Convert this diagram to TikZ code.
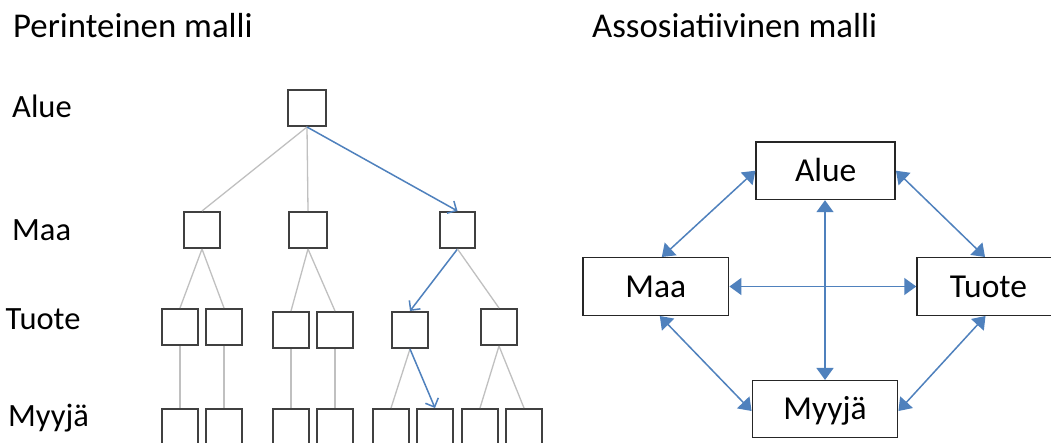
\documentclass[tikz,border=0pt]{standalone}
\usepackage{fontspec}
\setmainfont{Carlito}
\usetikzlibrary{arrows.meta}
\definecolor{linkblue}{RGB}{79,129,189}
\definecolor{treegray}{RGB}{192,192,192}
\definecolor{boxgray}{RGB}{64,64,64}
\tikzset{
  leaf/.style={draw=boxgray, line width=2pt, minimum width=36pt, minimum height=36pt, inner sep=0pt},
  branch/.style={draw=treegray, line width=1.3pt},
  pathlink/.style={draw=linkblue, line width=1.5pt, -{Straight Barb[length=7pt,width=14pt]}},
  entity/.style={draw=black!85, line width=1.5pt, inner sep=0pt, minimum height=57.5pt,
    font=\fontsize{33.5}{40}\selectfont, text height=21.2pt, text depth=0pt},
  assoc/.style={draw=linkblue, line width=1.5pt, {Triangle[length=12pt,width=17pt]}-{Triangle[length=12pt,width=17pt]}},
  heading/.style={anchor=base west, inner sep=0pt, font=\fontsize{34.8}{40}\selectfont},
  level/.style={anchor=base west, inner sep=0pt, font=\fontsize{32.5}{40}\selectfont}
}
\begin{document}
\begin{tikzpicture}[x=1pt, y=-1pt]
\useasboundingbox (0,0) rectangle (1051,443);
\fill[white] (0,0) rectangle (1051,443);
\clip (0,0) rectangle (1051,443);

% headings
\node[heading] (h1) at (13,37.3) {Perinteinen malli};
\node[heading] (h2) at (592,37.3) {Assosiatiivinen malli};

% level labels of the hierarchy
\node[level] (lAlue) at (12,117.3) {Alue};
\node[level] (lMaa) at (12,240.7) {Maa};
\node[level] (lTuote) at (5.5,329.3) {Tuote};
\node[level] (lMyyja) at (8,426.7) {Myyjä};

% hierarchy boxes
\node[leaf, minimum width=38pt] (r) at (307,108) {};
\node[leaf] (m1) at (202,230) {};
\node[leaf, minimum width=38pt] (m2) at (308,230) {};
\node[leaf, minimum width=35pt] (m3) at (457.5,230) {};

\node[leaf] (t1) at (180,327) {};
\node[leaf] (t2) at (224,327) {};
\node[leaf] (t3) at (291,330) {};
\node[leaf] (t4) at (335,330) {};
\node[leaf] (t5) at (410,330) {};
\node[leaf] (t6) at (499,327) {};

\foreach \i/\x in {1/180,2/224,3/291,4/335,5/391,6/435,7/480,8/524}
  \node[leaf] (s\i) at (\x,427) {};

% hierarchy branches
\draw[branch] (r.south) -- (m1.north);
\draw[branch] (r.south) -- (m2.north);
\draw[pathlink] (r.south) -- (m3.north);

\draw[branch] (m1.south) -- (t1.north);
\draw[branch] (m1.south) -- (t2.north);
\draw[branch] (m2.south) -- (t3.north);
\draw[branch] (m2.south) -- (t4.north);
\draw[pathlink] (m3.south) -- (t5.north);
\draw[branch] (m3.south) -- (t6.north);

\draw[branch] (t1.south) -- (s1.north);
\draw[branch] (t2.south) -- (s2.north);
\draw[branch] (t3.south) -- (s3.north);
\draw[branch] (t4.south) -- (s4.north);
\draw[branch] (t5.south) -- (s5.north);
\draw[pathlink] (t5.south) -- (s6.north);
\draw[branch] (t6.south) -- (s7.north);
\draw[branch] (t6.south) -- (s8.north);

% associative model
\node[entity, minimum width=139pt] (A) at (825.7,170.7) {Alue};
\node[entity, minimum width=145.7pt] (M) at (655.8,286.5) {Maa};
\node[entity, minimum width=143pt] (T) at (988.5,286.5) {Tuote};
\node[entity, minimum width=145.4pt, minimum height=56.6pt] (Y) at (825,409) {Myyjä};

\draw[assoc] (A.west) -- ([xshift=6pt]M.north);
\draw[assoc] (A.east) -- ([xshift=-3.5pt]T.north);
\draw[assoc] ([xshift=-0.7pt]A.south) -- ([xshift=-0.7pt]A.south |- Y.north);
\draw[assoc] (M.east) -- (T.west);
\draw[assoc] ([xshift=4pt]M.south) -- ([yshift=-2pt]Y.west);
\draw[assoc] ([xshift=-3pt]T.south) -- ([yshift=-2pt]Y.east);
\end{tikzpicture}
\end{document}
